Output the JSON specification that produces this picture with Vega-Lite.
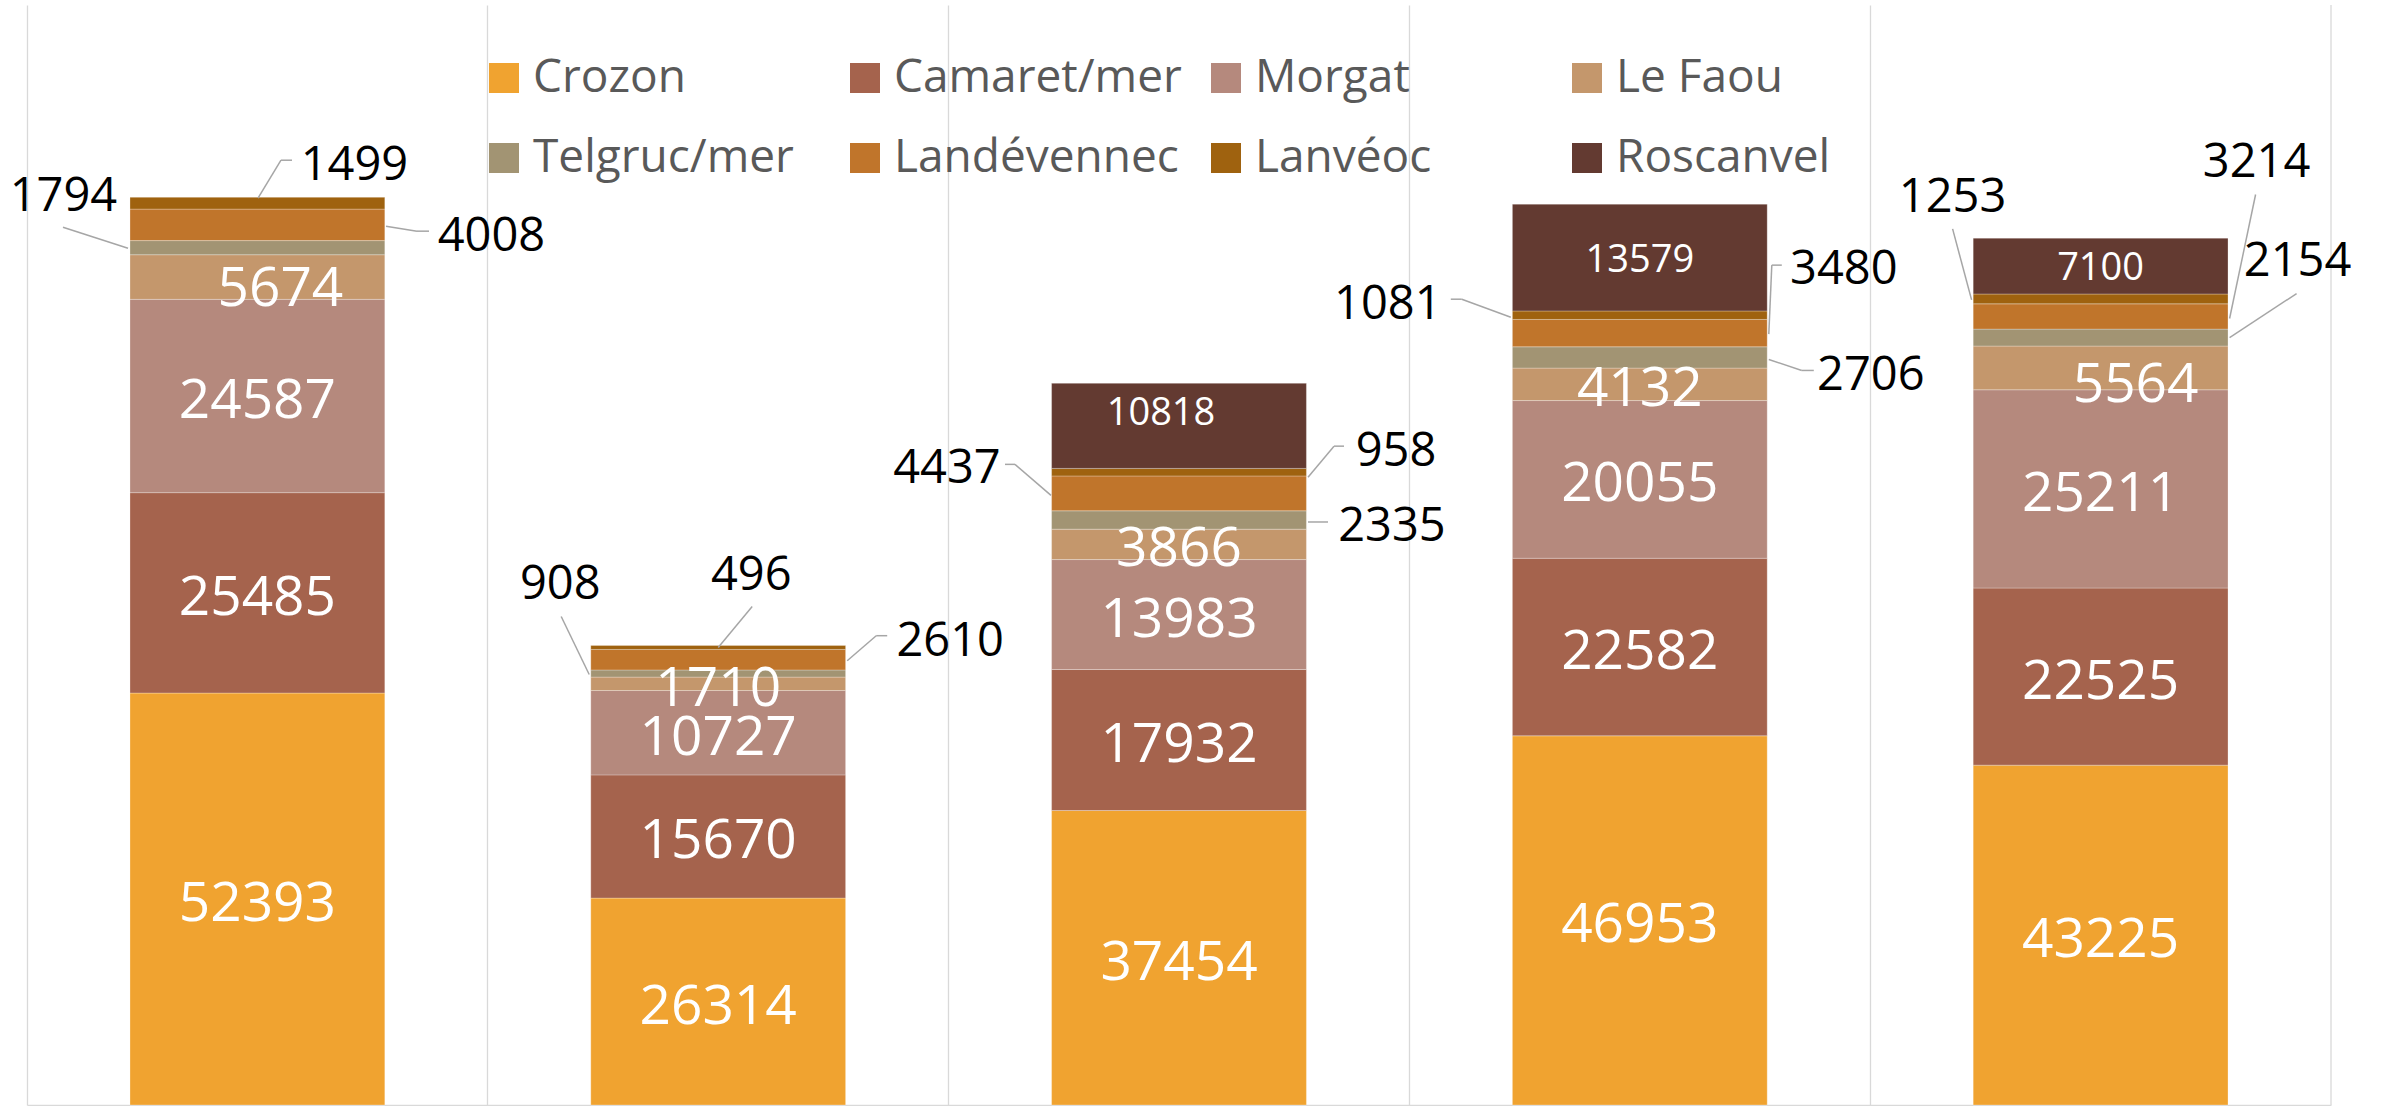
{
  "$schema": "https://vega.github.io/schema/vega-lite/v6.json",
  "autosize": {"type": "none"},
  "padding": {"left": 27, "top": 5, "right": 53, "bottom": 1},
  "width": 2304,
  "height": 1100,
  "background": "#ffffff",
  "config": {
    "view": {"stroke": null},
    "text": {"font": "Open Sans"}
  },
  "data": {"values": [
    {"bar": "Groupe 1", "series": "Crozon", "value": 52393},
    {"bar": "Groupe 1", "series": "Camaret/mer", "value": 25485},
    {"bar": "Groupe 1", "series": "Morgat", "value": 24587},
    {"bar": "Groupe 1", "series": "Le Faou", "value": 5674},
    {"bar": "Groupe 1", "series": "Telgruc/mer", "value": 1794},
    {"bar": "Groupe 1", "series": "Landévennec", "value": 4008},
    {"bar": "Groupe 1", "series": "Lanvéoc", "value": 1499},
    {"bar": "Groupe 2", "series": "Crozon", "value": 26314},
    {"bar": "Groupe 2", "series": "Camaret/mer", "value": 15670},
    {"bar": "Groupe 2", "series": "Morgat", "value": 10727},
    {"bar": "Groupe 2", "series": "Le Faou", "value": 1710},
    {"bar": "Groupe 2", "series": "Telgruc/mer", "value": 908},
    {"bar": "Groupe 2", "series": "Landévennec", "value": 2610},
    {"bar": "Groupe 2", "series": "Lanvéoc", "value": 496},
    {"bar": "Groupe 3", "series": "Crozon", "value": 37454},
    {"bar": "Groupe 3", "series": "Camaret/mer", "value": 17932},
    {"bar": "Groupe 3", "series": "Morgat", "value": 13983},
    {"bar": "Groupe 3", "series": "Le Faou", "value": 3866},
    {"bar": "Groupe 3", "series": "Telgruc/mer", "value": 2335},
    {"bar": "Groupe 3", "series": "Landévennec", "value": 4437},
    {"bar": "Groupe 3", "series": "Lanvéoc", "value": 958},
    {"bar": "Groupe 3", "series": "Roscanvel", "value": 10818},
    {"bar": "Groupe 4", "series": "Crozon", "value": 46953},
    {"bar": "Groupe 4", "series": "Camaret/mer", "value": 22582},
    {"bar": "Groupe 4", "series": "Morgat", "value": 20055},
    {"bar": "Groupe 4", "series": "Le Faou", "value": 4132},
    {"bar": "Groupe 4", "series": "Telgruc/mer", "value": 2706},
    {"bar": "Groupe 4", "series": "Landévennec", "value": 3480},
    {"bar": "Groupe 4", "series": "Lanvéoc", "value": 1081},
    {"bar": "Groupe 4", "series": "Roscanvel", "value": 13579},
    {"bar": "Groupe 5", "series": "Crozon", "value": 43225},
    {"bar": "Groupe 5", "series": "Camaret/mer", "value": 22525},
    {"bar": "Groupe 5", "series": "Morgat", "value": 25211},
    {"bar": "Groupe 5", "series": "Le Faou", "value": 5564},
    {"bar": "Groupe 5", "series": "Telgruc/mer", "value": 2154},
    {"bar": "Groupe 5", "series": "Landévennec", "value": 3214},
    {"bar": "Groupe 5", "series": "Lanvéoc", "value": 1253},
    {"bar": "Groupe 5", "series": "Roscanvel", "value": 7100}
  ]},
  "transform": [
    {"calculate": "indexof(['Crozon','Camaret/mer','Morgat','Le Faou','Telgruc/mer','Landévennec','Lanvéoc','Roscanvel'], datum.series)", "as": "ord"},
    {"stack": "value", "groupby": ["bar"], "sort": [{"field": "ord", "order": "ascending"}], "as": ["v0", "v1"]},
    {"calculate": "(datum.v0 + datum.v1) / 2", "as": "mid"}
  ],
  "encoding": {
    "x": {"field": "bar", "type": "nominal", "bandPosition": 0.5,
      "scale": {"paddingInner": 0, "paddingOuter": 0},
      "axis": {"title": null, "labels": false, "ticks": false, "grid": true, "bandPosition": 0, "gridColor": "#d9d9d9", "gridWidth": 1.3, "domain": true, "domainColor": "#d9d9d9", "domainWidth": 1.3}},
    "y": {"field": "mid", "type": "quantitative", "scale": {"domain": [0, 139900], "nice": false, "zero": true}, "axis": null}
  },
  "layer": [
    {
      "data": {"values": [{"edge": 1}]},
      "transform": [],
      "mark": {"type": "rule", "color": "#d9d9d9", "strokeWidth": 1.3},
      "encoding": {"x": {"datum": "Groupe 5", "type": "nominal", "bandPosition": 1}, "y": null}
    },
    {
      "mark": {"type": "bar", "width": {"band": 0.553}, "stroke": "#ffffff", "strokeWidth": 0.8, "strokeOpacity": 0.35},
      "encoding": {
        "x": {"field": "bar", "type": "nominal"},
        "y": {"field": "v0", "type": "quantitative"},
        "y2": {"field": "v1"},
        "color": {"field": "series", "type": "nominal",
          "scale": {"domain": ["Crozon", "Camaret/mer", "Morgat", "Le Faou", "Telgruc/mer", "Landévennec", "Lanvéoc", "Roscanvel"],
                    "range": ["#F0A330", "#A5634D", "#B5897D", "#C4976C", "#A29473", "#C0752B", "#9F620F", "#633A31"]},
          "legend": {"orient": "none", "legendX": 454, "legendY": 50, "direction": "horizontal", "columns": 4, "gridAlign": "all", "columnPadding": 21, "rowPadding": 34, "symbolType": "square", "symbolSize": 900, "symbolStrokeWidth": 0, "symbolOffset": 0, "labelFontSize": 46, "labelFont": "Open Sans", "labelColor": "#595959", "labelOffset": 6, "labelLimit": 0, "title": null, "padding": 0}}
      }
    },
    {
      "transform": [{"filter": "indexof(['Crozon','Camaret/mer','Morgat'], datum.series) >= 0 || (datum.series == 'Le Faou' && datum.bar != 'Groupe 1' && datum.bar != 'Groupe 5')"}],
      "mark": {"type": "text", "font": "Open Sans", "fontSize": 55, "color": "#ffffff", "align": "center", "baseline": "middle", "dy": 5},
      "encoding": {"text": {"field": "value", "type": "quantitative", "format": "d"}}
    },
    {
      "transform": [{"filter": "datum.series == 'Le Faou' && datum.bar == 'Groupe 1'"}],
      "mark": {"type": "text", "font": "Open Sans", "fontSize": 55, "color": "#ffffff", "align": "center", "baseline": "middle", "dx": 23, "dy": 12},
      "encoding": {"text": {"field": "value", "type": "quantitative", "format": "d"}}
    },
    {
      "transform": [{"filter": "datum.series == 'Le Faou' && datum.bar == 'Groupe 5'"}],
      "mark": {"type": "text", "font": "Open Sans", "fontSize": 55, "color": "#ffffff", "align": "center", "baseline": "middle", "dx": 35, "dy": 17},
      "encoding": {"text": {"field": "value", "type": "quantitative", "format": "d"}}
    },
    {
      "transform": [{"filter": "datum.series == 'Roscanvel' && datum.bar != 'Groupe 3'"}],
      "mark": {"type": "text", "font": "Open Sans", "fontSize": 38, "color": "#ffffff", "align": "center", "baseline": "middle", "dy": 3},
      "encoding": {"text": {"field": "value", "type": "quantitative", "format": "d"}}
    },
    {
      "transform": [{"filter": "datum.series == 'Roscanvel' && datum.bar == 'Groupe 3'"}],
      "mark": {"type": "text", "font": "Open Sans", "fontSize": 38, "color": "#ffffff", "align": "center", "baseline": "middle", "dx": -18, "dy": -12},
      "encoding": {"text": {"field": "value", "type": "quantitative", "format": "d"}}
    },

    {"transform": [{"filter": "datum.bar == 'Groupe 1' && datum.series == 'Lanvéoc'"}], "layer": [
      {"mark": {"type": "text", "font": "Open Sans", "fontSize": 47, "color": "#000000", "align": "center", "baseline": "middle", "dx": 97, "dy": -37}, "encoding": {"text": {"field": "value", "type": "quantitative", "format": "d"}}},
      {"mark": {"type": "rule", "color": "#a6a6a6", "strokeWidth": 1.5, "xOffset": 0.6, "yOffset": -5, "x2Offset": 23.6, "y2Offset": -43}, "encoding": {"x2": {"field": "bar", "bandPosition": 0.5}, "y2": {"field": "mid"}}},
      {"mark": {"type": "rule", "color": "#a6a6a6", "strokeWidth": 1.5, "xOffset": 23.6, "yOffset": -43, "x2Offset": 34.6, "y2Offset": -43}, "encoding": {"x2": {"field": "bar", "bandPosition": 0.5}, "y2": {"field": "mid"}}}
    ]},
    {"transform": [{"filter": "datum.bar == 'Groupe 1' && datum.series == 'Landévennec'"}], "layer": [
      {"mark": {"type": "text", "font": "Open Sans", "fontSize": 47, "color": "#000000", "align": "center", "baseline": "middle", "dx": 234, "dy": 12}, "encoding": {"text": {"field": "value", "type": "quantitative", "format": "d"}}},
      {"mark": {"type": "rule", "color": "#a6a6a6", "strokeWidth": 1.5, "xOffset": 128.6, "yOffset": 1.3, "x2Offset": 159.6, "y2Offset": 6.3}, "encoding": {"x2": {"field": "bar", "bandPosition": 0.5}, "y2": {"field": "mid"}}},
      {"mark": {"type": "rule", "color": "#a6a6a6", "strokeWidth": 1.5, "xOffset": 159.6, "yOffset": 6.3, "x2Offset": 171.6, "y2Offset": 6.3}, "encoding": {"x2": {"field": "bar", "bandPosition": 0.5}, "y2": {"field": "mid"}}}
    ]},
    {"transform": [{"filter": "datum.bar == 'Groupe 1' && datum.series == 'Telgruc/mer'"}], "layer": [
      {"mark": {"type": "text", "font": "Open Sans", "fontSize": 47, "color": "#000000", "align": "center", "baseline": "middle", "dx": -194, "dy": -51}, "encoding": {"text": {"field": "value", "type": "quantitative", "format": "d"}}},
      {"mark": {"type": "rule", "color": "#a6a6a6", "strokeWidth": 1.5, "xOffset": -129.4, "yOffset": 0.5, "x2Offset": -194.4, "y2Offset": -20.5}, "encoding": {"x2": {"field": "bar", "bandPosition": 0.5}, "y2": {"field": "mid"}}}
    ]},

    {"transform": [{"filter": "datum.bar == 'Groupe 2' && datum.series == 'Lanvéoc'"}], "layer": [
      {"mark": {"type": "text", "font": "Open Sans", "fontSize": 47, "color": "#000000", "align": "center", "baseline": "middle", "dx": 33, "dy": -71}, "encoding": {"text": {"field": "value", "type": "quantitative", "format": "d"}}},
      {"mark": {"type": "rule", "color": "#a6a6a6", "strokeWidth": 1.5, "xOffset": 0, "yOffset": 0, "x2Offset": 34, "y2Offset": -41}, "encoding": {"x2": {"field": "bar", "bandPosition": 0.5}, "y2": {"field": "mid"}}}
    ]},
    {"transform": [{"filter": "datum.bar == 'Groupe 2' && datum.series == 'Landévennec'"}], "layer": [
      {"mark": {"type": "text", "font": "Open Sans", "fontSize": 47, "color": "#000000", "align": "center", "baseline": "middle", "dx": 232, "dy": -18}, "encoding": {"text": {"field": "value", "type": "quantitative", "format": "d"}}},
      {"mark": {"type": "rule", "color": "#a6a6a6", "strokeWidth": 1.5, "xOffset": 129, "yOffset": 1, "x2Offset": 158, "y2Offset": -24}, "encoding": {"x2": {"field": "bar", "bandPosition": 0.5}, "y2": {"field": "mid"}}},
      {"mark": {"type": "rule", "color": "#a6a6a6", "strokeWidth": 1.5, "xOffset": 158, "yOffset": -24, "x2Offset": 169, "y2Offset": -24}, "encoding": {"x2": {"field": "bar", "bandPosition": 0.5}, "y2": {"field": "mid"}}}
    ]},
    {"transform": [{"filter": "datum.bar == 'Groupe 2' && datum.series == 'Telgruc/mer'"}], "layer": [
      {"mark": {"type": "text", "font": "Open Sans", "fontSize": 47, "color": "#000000", "align": "center", "baseline": "middle", "dx": -158, "dy": -89}, "encoding": {"text": {"field": "value", "type": "quantitative", "format": "d"}}},
      {"mark": {"type": "rule", "color": "#a6a6a6", "strokeWidth": 1.5, "xOffset": -129, "yOffset": 1, "x2Offset": -157, "y2Offset": -57}, "encoding": {"x2": {"field": "bar", "bandPosition": 0.5}, "y2": {"field": "mid"}}}
    ]},

    {"transform": [{"filter": "datum.bar == 'Groupe 3' && datum.series == 'Lanvéoc'"}], "layer": [
      {"mark": {"type": "text", "font": "Open Sans", "fontSize": 47, "color": "#000000", "align": "center", "baseline": "middle", "dx": 217, "dy": -20}, "encoding": {"text": {"field": "value", "type": "quantitative", "format": "d"}}},
      {"mark": {"type": "rule", "color": "#a6a6a6", "strokeWidth": 1.5, "xOffset": 129, "yOffset": 5, "x2Offset": 155, "y2Offset": -26}, "encoding": {"x2": {"field": "bar", "bandPosition": 0.5}, "y2": {"field": "mid"}}},
      {"mark": {"type": "rule", "color": "#a6a6a6", "strokeWidth": 1.5, "xOffset": 155, "yOffset": -26, "x2Offset": 165, "y2Offset": -26}, "encoding": {"x2": {"field": "bar", "bandPosition": 0.5}, "y2": {"field": "mid"}}}
    ]},
    {"transform": [{"filter": "datum.bar == 'Groupe 3' && datum.series == 'Landévennec'"}], "layer": [
      {"mark": {"type": "text", "font": "Open Sans", "fontSize": 47, "color": "#000000", "align": "center", "baseline": "middle", "dx": -232, "dy": -24}, "encoding": {"text": {"field": "value", "type": "quantitative", "format": "d"}}},
      {"mark": {"type": "rule", "color": "#a6a6a6", "strokeWidth": 1.5, "xOffset": -128, "yOffset": 2, "x2Offset": -164, "y2Offset": -29}, "encoding": {"x2": {"field": "bar", "bandPosition": 0.5}, "y2": {"field": "mid"}}},
      {"mark": {"type": "rule", "color": "#a6a6a6", "strokeWidth": 1.5, "xOffset": -164, "yOffset": -29, "x2Offset": -174, "y2Offset": -29}, "encoding": {"x2": {"field": "bar", "bandPosition": 0.5}, "y2": {"field": "mid"}}}
    ]},
    {"transform": [{"filter": "datum.bar == 'Groupe 3' && datum.series == 'Telgruc/mer'"}], "layer": [
      {"mark": {"type": "text", "font": "Open Sans", "fontSize": 47, "color": "#000000", "align": "center", "baseline": "middle", "dx": 213, "dy": 7}, "encoding": {"text": {"field": "value", "type": "quantitative", "format": "d"}}},
      {"mark": {"type": "rule", "color": "#a6a6a6", "strokeWidth": 1.5, "xOffset": 129, "yOffset": 2, "x2Offset": 149, "y2Offset": 2}, "encoding": {"x2": {"field": "bar", "bandPosition": 0.5}, "y2": {"field": "mid"}}}
    ]},

    {"transform": [{"filter": "datum.bar == 'Groupe 4' && datum.series == 'Lanvéoc'"}], "layer": [
      {"mark": {"type": "text", "font": "Open Sans", "fontSize": 47, "color": "#000000", "align": "center", "baseline": "middle", "dx": -252, "dy": -10}, "encoding": {"text": {"field": "value", "type": "quantitative", "format": "d"}}},
      {"mark": {"type": "rule", "color": "#a6a6a6", "strokeWidth": 1.5, "xOffset": -129, "yOffset": 2, "x2Offset": -178, "y2Offset": -16}, "encoding": {"x2": {"field": "bar", "bandPosition": 0.5}, "y2": {"field": "mid"}}},
      {"mark": {"type": "rule", "color": "#a6a6a6", "strokeWidth": 1.5, "xOffset": -178, "yOffset": -16, "x2Offset": -189, "y2Offset": -16}, "encoding": {"x2": {"field": "bar", "bandPosition": 0.5}, "y2": {"field": "mid"}}}
    ]},
    {"transform": [{"filter": "datum.bar == 'Groupe 4' && datum.series == 'Landévennec'"}], "layer": [
      {"mark": {"type": "text", "font": "Open Sans", "fontSize": 47, "color": "#000000", "align": "center", "baseline": "middle", "dx": 204, "dy": -63}, "encoding": {"text": {"field": "value", "type": "quantitative", "format": "d"}}},
      {"mark": {"type": "rule", "color": "#a6a6a6", "strokeWidth": 1.5, "xOffset": 129, "yOffset": 1, "x2Offset": 132, "y2Offset": -68}, "encoding": {"x2": {"field": "bar", "bandPosition": 0.5}, "y2": {"field": "mid"}}},
      {"mark": {"type": "rule", "color": "#a6a6a6", "strokeWidth": 1.5, "xOffset": 132, "yOffset": -68, "x2Offset": 142, "y2Offset": -68}, "encoding": {"x2": {"field": "bar", "bandPosition": 0.5}, "y2": {"field": "mid"}}}
    ]},
    {"transform": [{"filter": "datum.bar == 'Groupe 4' && datum.series == 'Telgruc/mer'"}], "layer": [
      {"mark": {"type": "text", "font": "Open Sans", "fontSize": 47, "color": "#000000", "align": "center", "baseline": "middle", "dx": 231, "dy": 19}, "encoding": {"text": {"field": "value", "type": "quantitative", "format": "d"}}},
      {"mark": {"type": "rule", "color": "#a6a6a6", "strokeWidth": 1.5, "xOffset": 129, "yOffset": 2, "x2Offset": 162, "y2Offset": 13}, "encoding": {"x2": {"field": "bar", "bandPosition": 0.5}, "y2": {"field": "mid"}}},
      {"mark": {"type": "rule", "color": "#a6a6a6", "strokeWidth": 1.5, "xOffset": 162, "yOffset": 13, "x2Offset": 174, "y2Offset": 13}, "encoding": {"x2": {"field": "bar", "bandPosition": 0.5}, "y2": {"field": "mid"}}}
    ]},

    {"transform": [{"filter": "datum.bar == 'Groupe 5' && datum.series == 'Lanvéoc'"}], "layer": [
      {"mark": {"type": "text", "font": "Open Sans", "fontSize": 47, "color": "#000000", "align": "center", "baseline": "middle", "dx": -148, "dy": -101}, "encoding": {"text": {"field": "value", "type": "quantitative", "format": "d"}}},
      {"mark": {"type": "rule", "color": "#a6a6a6", "strokeWidth": 1.5, "xOffset": -129, "yOffset": 1, "x2Offset": -148, "y2Offset": -70}, "encoding": {"x2": {"field": "bar", "bandPosition": 0.5}, "y2": {"field": "mid"}}}
    ]},
    {"transform": [{"filter": "datum.bar == 'Groupe 5' && datum.series == 'Landévennec'"}], "layer": [
      {"mark": {"type": "text", "font": "Open Sans", "fontSize": 47, "color": "#000000", "align": "center", "baseline": "middle", "dx": 156, "dy": -153}, "encoding": {"text": {"field": "value", "type": "quantitative", "format": "d"}}},
      {"mark": {"type": "rule", "color": "#a6a6a6", "strokeWidth": 1.5, "xOffset": 129, "yOffset": 2, "x2Offset": 155, "y2Offset": -122}, "encoding": {"x2": {"field": "bar", "bandPosition": 0.5}, "y2": {"field": "mid"}}}
    ]},
    {"transform": [{"filter": "datum.bar == 'Groupe 5' && datum.series == 'Telgruc/mer'"}], "layer": [
      {"mark": {"type": "text", "font": "Open Sans", "fontSize": 47, "color": "#000000", "align": "center", "baseline": "middle", "dx": 197, "dy": -76}, "encoding": {"text": {"field": "value", "type": "quantitative", "format": "d"}}},
      {"mark": {"type": "rule", "color": "#a6a6a6", "strokeWidth": 1.5, "xOffset": 129, "yOffset": 0, "x2Offset": 196, "y2Offset": -44}, "encoding": {"x2": {"field": "bar", "bandPosition": 0.5}, "y2": {"field": "mid"}}}
    ]}
  ]
}
